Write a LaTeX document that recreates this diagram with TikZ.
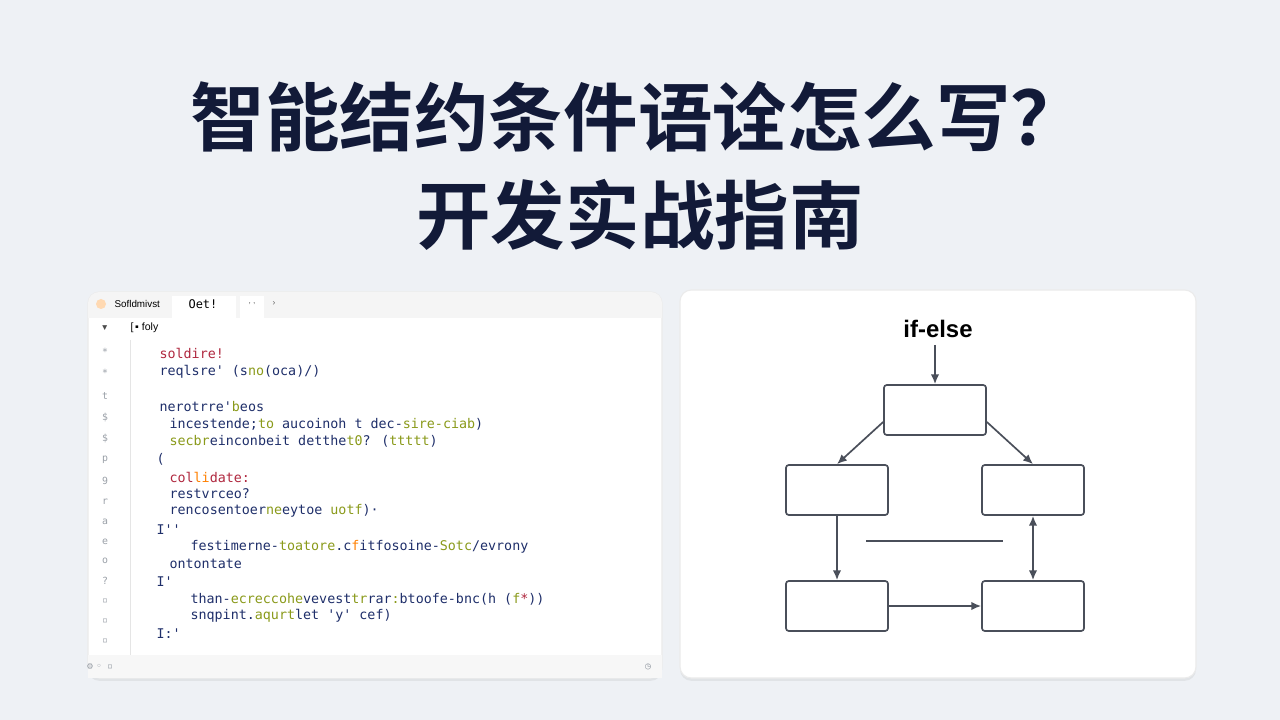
\documentclass[tikz,border=0pt]{standalone}
\usepackage{fontspec}
\setmainfont{Liberation Sans}
\newfontfamily\cjk{Noto Sans CJK SC}[BoldFont={Noto Sans CJK SC Bold}]
\newfontfamily\codefont{DejaVu Sans Mono}
\usetikzlibrary{positioning,shadows,arrows.meta}
\definecolor{bgcol}{HTML}{EEF1F5}
\definecolor{titlecol}{HTML}{121A38}
\definecolor{flowcol}{HTML}{4A4F5A}
\definecolor{kwred}{HTML}{B0283F}
\definecolor{kwgreen}{HTML}{8A9A1A}
\definecolor{kwblue}{HTML}{1F2F6A}
\definecolor{guttercol}{HTML}{9AA0A8}
\tikzset{
every picture/.style={line width=0.8pt, >=stealth},
%%%%%%%%%% panels
panel/.style={fill=white, draw=black!8, rounded corners=8pt,
              drop shadow={opacity=0.12, shadow xshift=0pt, shadow yshift=-2pt}},
%%%%%%%%%% flowchart
flowbox/.style={draw=flowcol, line width=1.2pt, rounded corners=2pt,
                minimum width=2.55cm, minimum height=1.25cm, inner sep=0pt},
flowarrow/.style={draw=flowcol, line width=1.2pt, -{Latex[length=7pt,width=6pt]}},
flowboth/.style={draw=flowcol, line width=1.2pt, {Latex[length=7pt,width=6pt]}-{Latex[length=7pt,width=6pt]}},
%%%%%%%%%% code text
codeline/.style={anchor=west, inner sep=0pt, font=\codefont\fontsize{9.5}{11}\selectfont, text=kwblue},
gutter/.style={inner sep=0pt, font=\codefont\fontsize{7}{8}\selectfont, text=guttercol}
}
\begin{document}
\begin{tikzpicture}[x=0.025cm, y=-0.025cm]
\useasboundingbox[fill=bgcol] (0,0) rectangle (1280,720);
%% title
\node[font=\cjk\bfseries\fontsize{53}{58}\selectfont, text=titlecol] (title1) at (638,117) {智能结约条件语诠怎么写？};
\node[font=\cjk\bfseries\fontsize{53}{58}\selectfont, text=titlecol] (title2) at (640,215) {开发实战指南};
%%%%%%%%%%%%%%%%%%%%%%%%%%%%%%%%%%%%%%%%%%%%%%%%%%%%%%%
%% code editor panel
\path[panel] (88,292) rectangle (662,678);
\fill[black!4, rounded corners=8pt] (88,292) rectangle (662,318);
\fill[black!4] (88,308) rectangle (662,318);
\fill[white] (172,296) rectangle (236,318);
\fill[white] (240,296) rectangle (264,318);
\fill[black!3] (88,655) rectangle (662,678);
\draw[black!10, line width=0.5pt] (130,340) -- (130,655);
\fill[orange!30] (101,304) circle (5);
\node[anchor=west, inner sep=0pt, font=\fontsize{7}{8}\selectfont] (tab1) at (114,304) {Sofldmivst};
\node[anchor=west, inner sep=0pt, font=\codefont\fontsize{8.5}{9}\selectfont] (tab2) at (188,304) {Oet!};
\node[anchor=west, inner sep=0pt, font=\fontsize{6}{7}\selectfont, text=black!60] (tab3) at (248,304) {, ,};
\node[anchor=west, inner sep=0pt, font=\fontsize{6}{7}\selectfont, text=black!60] (tab4) at (272,304) {›};
\node[anchor=west, inner sep=0pt, font=\fontsize{6}{7}\selectfont, text=black!70] (arrow) at (100,328) {▼};
\node[anchor=west, inner sep=0pt, font=\fontsize{7.5}{8}\selectfont] (file) at (130,328) {[\,▪ foly};
%% gutter icons
\foreach \y/\g in {352/*, 373/*, 396/t, 417/{\$}, 438/{\$}, 460/p, 481/9, 502/r, 522/a, 542/e, 561/o, 581/?, 601/▫, 621/▫, 641/▫}
  \node[gutter] at (105,\y) {\g};
%% code lines
\node[codeline, text=kwred] (c1) at (159,353) {soldire!};
\node[codeline] (c2) at (159,372) {reqlsre' (s\textcolor{kwgreen}{no}(oca)/)};
\node[codeline] (c3) at (159,407) {nerotrre'\textcolor{kwgreen}{b}eos};
\node[codeline] (c4) at (169,424) {incestende;\textcolor{kwgreen}{to} aucoinoh t dec-\textcolor{kwgreen}{sire-ciab})};
\node[codeline] (c5) at (169,441) {\textcolor{kwgreen}{secbr}einconbeit detthe\textcolor{kwgreen}{t0}? (\textcolor{kwgreen}{ttttt})};
\node[codeline] (c6) at (156,459) {(};
\node[codeline, text=kwred] (c7) at (169,477) {col\textcolor{orange}{li}date:};
\node[codeline] (c8) at (169,494) {restvrceo?};
\node[codeline] (c9) at (169,511) {rencosentoer\textcolor{kwgreen}{ne}eytoe \textcolor{kwgreen}{uotf})\textperiodcentered};
\node[codeline] (c10) at (156,530) {I''};
\node[codeline] (c11) at (190,547) {festimerne-\textcolor{kwgreen}{toatore}.c\textcolor{orange}{f}itfosoine-\textcolor{kwgreen}{Sotc}/evrony};
\node[codeline] (c12) at (169,564) {ontontate};
\node[codeline] (c13) at (156,582) {I'};
\node[codeline] (c14) at (190,599) {than-\textcolor{kwgreen}{ecreccohe}vevest\textcolor{kwgreen}{tr}rar\textcolor{kwgreen}{:}btoofe-bnc(h (\textcolor{kwgreen}{f}\textcolor{kwred}{*}))};
\node[codeline] (c15) at (190,616) {snqpint.\textcolor{kwgreen}{aqurt}let 'y' cef)};
\node[codeline] (c16) at (156,634) {I:'};
\node[gutter] (f1) at (100,667) {⚙\,\,◦\,\,\,▫};
\node[gutter] (f2) at (648,667) {◷};
%%%%%%%%%%%%%%%%%%%%%%%%%%%%%%%%%%%%%%%%%%%%%%%%%%%%%%%
%% flowchart panel
\path[panel] (680,290) rectangle (1196,678);
\node[font=\bfseries\fontsize{17}{20}\selectfont] (label) at (938,329) {if-else};
\node[flowbox] (top) at (935,410) {};
\node[flowbox] (left) at (837,490) {};
\node[flowbox] (right) at (1033,490) {};
\node[flowbox] (bleft) at (837,606) {};
\node[flowbox] (bright) at (1033,606) {};
\coordinate (entry) at (935,345);
\draw[flowarrow] (entry) -- (top);
\draw[flowarrow] (top.west|-0,422) -- (left.north);
\draw[flowarrow] (top.east|-0,422) -- (right.north);
\draw[flowarrow] (left) -- (bleft);
\draw[flowarrow] (bleft) -- (bright);
\draw[flowboth] (bright) -- (right);
\coordinate (midl) at (866,541);
\coordinate (midr) at (1003,541);
\draw[draw=flowcol, line width=1.2pt] (midl) -- (midr);
\end{tikzpicture}
\end{document}
